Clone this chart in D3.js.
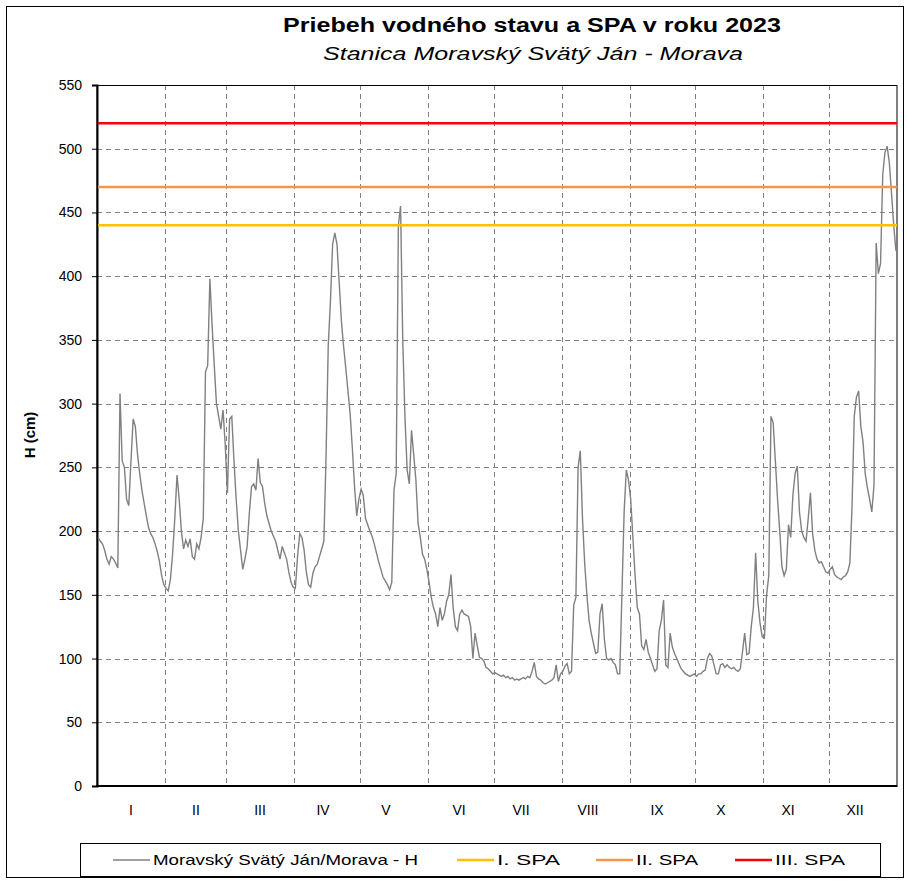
<!DOCTYPE html>
<html>
<head>
<meta charset="utf-8">
<script src="https://cdn.jsdelivr.net/npm/d3@7"></script>
<style>
  body { margin: 0; background: #fff; }
  svg text { font-family: "Liberation Sans", Arial, sans-serif; fill: #000; }
</style>
</head>
<body>
<div id="chart"></div>
<script>
// water level H (cm), one value per day of 2023
const levels = [
  // I
  195,192,190,185,178,174,180,178,175,171,308,255,250,225,220,255,288,282,260,245,232,222,212,203,198,195,190,184,176,165,158,
  // II
  155,153,162,182,210,244,225,200,186,193,188,194,180,178,190,186,195,210,325,330,398,362,330,300,290,280,295,268,
  // III
  230,288,290,255,225,200,185,170,178,188,214,235,237,232,257,238,235,222,212,206,200,196,192,185,178,188,183,178,168,160,156,
  // IV
  155,180,198,195,185,168,158,156,167,172,174,180,186,192,258,345,380,425,434,425,395,365,345,328,310,292,265,235,212,225,
  // V
  233,228,210,205,200,196,190,183,176,170,164,161,158,154,160,232,245,440,455,350,290,248,237,279,260,240,206,195,182,178,170,
  // VI
  160,148,140,135,125,140,130,135,145,150,166,140,125,122,135,138,135,134,133,125,100,120,110,101,100,98,93,92,90,88,
  // VII
  89,88,87,86,87,85,86,84,85,83,84,83,84,85,84,86,85,90,97,86,84,83,81,80,81,82,83,85,95,82,88,
  // VIII
  90,94,96,88,90,142,148,250,263,210,175,150,130,120,112,104,105,135,143,115,100,99,100,97,95,88,88,150,215,248,
  // IX
  240,225,195,165,140,135,110,107,115,105,100,95,90,92,122,130,146,95,93,120,109,104,100,96,92,90,88,87,86,87,
  // X
  88,86,88,88,90,91,100,104,102,95,88,88,95,96,93,95,93,92,93,91,90,92,105,120,103,104,125,140,183,145,128,
  // XI
  117,116,150,165,290,285,255,225,200,172,165,170,205,195,228,245,251,215,200,195,192,210,230,198,185,178,175,176,172,168,
  // XII
  167,170,172,166,164,163,162,164,165,168,175,220,290,305,310,282,270,245,234,225,215,236,426,402,410,480,497,502,489,465,440,420
];

const months = ["I", "II", "III", "IV", "V", "VI", "VII", "VIII", "IX", "X", "XI", "XII"];
const monthDays = [31, 28, 31, 30, 31, 30, 31, 31, 30, 31, 30, 31];
const yTicks = [0, 50, 100, 150, 200, 250, 300, 350, 400, 450, 500, 550];

// flood warning levels (stupne povodnovej aktivity)
const spaNames = ["I. SPA", "II. SPA", "III. SPA"];
const spaLevels = [440, 470, 520];
const spaColors = ["#ffc000", "#f79646", "#ff0000"];

const seriesName = "Moravský Svätý Ján/Morava - H";

const W = 907, H = 881;
const pLeft = 97, pRight = 897, pTop = 85, pBottom = 786;
// month labels sit a little off the month centres in the original
const monthLabelX = [131, 196, 260, 323, 386, 459, 521, 588, 657, 721, 788, 855];

const svg = d3.select("#chart").append("svg")
  .attr("width", W)
  .attr("height", H);

// outer frame
svg.append("rect")
  .attr("x", 6.5).attr("y", 6.5)
  .attr("width", 897).attr("height", 871)
  .attr("fill", "none").attr("stroke", "#000").attr("stroke-width", 1);

const x = d3.scaleLinear().domain([0, 365]).range([pLeft, pRight]);
const y = d3.scaleLinear().domain([0, 550]).range([pBottom, pTop]);

let starts = [0];
monthDays.forEach((d, i) => starts.push(starts[i] + d));

// grid
svg.append("g")
  .selectAll("line")
  .data(yTicks.filter(t => t > 0 && t < 550))
  .enter().append("line")
  .attr("x1", pLeft).attr("x2", pRight)
  .attr("y1", d => Math.round(y(d)) + 0.5).attr("y2", d => Math.round(y(d)) + 0.5)
  .attr("stroke", "#808080").attr("stroke-dasharray", "5,4");

svg.append("g")
  .selectAll("line")
  .data(starts.slice(1, 12))
  .enter().append("line")
  .attr("x1", d => Math.round(x(d)) + 0.5).attr("x2", d => Math.round(x(d)) + 0.5)
  .attr("y1", pTop).attr("y2", pBottom)
  .attr("stroke", "#808080").attr("stroke-dasharray", "5,4");

// plot border
svg.append("rect")
  .attr("x", pLeft).attr("y", pTop + 0.5)
  .attr("width", pRight - pLeft).attr("height", pBottom - pTop)
  .attr("fill", "none").attr("stroke", "#000").attr("stroke-width", 1);

// y axis
const yAxis = d3.axisLeft(y).tickValues(yTicks).tickSize(5).tickPadding(10);
const gy = svg.append("g")
  .attr("transform", "translate(" + pLeft + ",0)")
  .call(yAxis);
gy.select(".domain").attr("stroke", "#000").attr("stroke-width", 2);
gy.selectAll("text").attr("font-size", 14).attr("font-family", "Liberation Sans, Arial, sans-serif");

// x axis line
svg.append("line")
  .attr("x1", pLeft - 1).attr("x2", pRight)
  .attr("y1", pBottom).attr("y2", pBottom)
  .attr("stroke", "#000").attr("stroke-width", 2);

svg.append("g")
  .selectAll("text")
  .data(months)
  .enter().append("text")
  .attr("x", (d, i) => monthLabelX[i])
  .attr("y", 815)
  .attr("text-anchor", "middle")
  .attr("font-size", 14)
  .text(d => d);

// series
const line = d3.line()
  .x((d, i) => x(i + 0.5))
  .y(d => y(d));

svg.append("path")
  .datum(levels)
  .attr("d", line)
  .attr("fill", "none")
  .attr("stroke", "#808080")
  .attr("stroke-width", 1.4);

// SPA lines
svg.append("g")
  .selectAll("line")
  .data(spaLevels)
  .enter().append("line")
  .attr("x1", pLeft + 1).attr("x2", pRight)
  .attr("y1", d => y(d)).attr("y2", d => y(d))
  .attr("stroke", (d, i) => spaColors[i])
  .attr("stroke-width", 2.5);

// titles
svg.append("text")
  .attr("x", 532).attr("y", 32)
  .attr("text-anchor", "middle")
  .attr("font-size", 20).attr("font-weight", "bold")
  .attr("textLength", 498).attr("lengthAdjust", "spacingAndGlyphs")
  .text("Priebeh vodného stavu a  SPA v roku 2023");

svg.append("text")
  .attr("x", 533).attr("y", 60)
  .attr("text-anchor", "middle")
  .attr("font-size", 19).attr("font-style", "italic")
  .attr("textLength", 420).attr("lengthAdjust", "spacingAndGlyphs")
  .text("Stanica Moravský Svätý Ján - Morava");

svg.append("text")
  .attr("transform", "translate(35,435) rotate(-90)")
  .attr("text-anchor", "middle")
  .attr("font-size", 15).attr("font-weight", "bold")
  .text("H (cm)");

// legend
const lg = svg.append("g");
lg.append("rect")
  .attr("x", 80.5).attr("y", 843.5)
  .attr("width", 800).attr("height", 33)
  .attr("fill", "#fff").attr("stroke", "#000").attr("stroke-width", 1);

const legItems = [
  { name: seriesName, color: "#808080", w: 1.4, x0: 113, tl: 265 },
  { name: spaNames[0], color: spaColors[0], w: 2.5, x0: 457, tl: 63 },
  { name: spaNames[1], color: spaColors[1], w: 2.5, x0: 596, tl: 62 },
  { name: spaNames[2], color: spaColors[2], w: 2.5, x0: 735, tl: 70 }
];

legItems.forEach(it => {
  lg.append("line")
    .attr("x1", it.x0).attr("x2", it.x0 + 37)
    .attr("y1", 860).attr("y2", 860)
    .attr("stroke", it.color).attr("stroke-width", it.w);
  lg.append("text")
    .attr("x", it.x0 + 40).attr("y", 865)
    .attr("font-size", 15)
    .attr("textLength", it.tl).attr("lengthAdjust", "spacingAndGlyphs")
    .text(it.name);
});
</script>
</body>
</html>
